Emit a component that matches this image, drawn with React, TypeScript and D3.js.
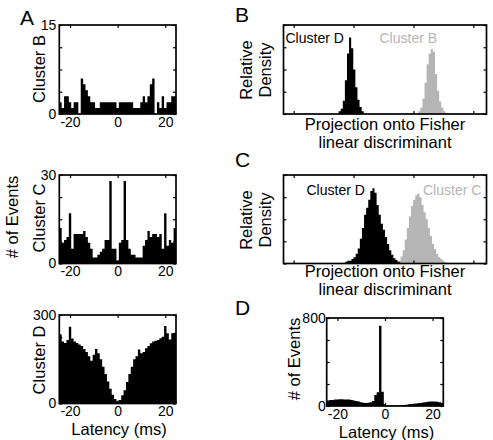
import React, { useEffect, useRef } from "react";
import * as d3 from "d3";

const WIDTH = 493;
const HEIGHT = 440;
const FONT = "'Liberation Sans', Arial, Helvetica, sans-serif";
const GREY = "#b5b5b5";
const TICK = 3;
const TITLE_SIZE = 16.5;

// 1 ms latency bins, centred on integer lags
const lagBins = d3.range(-24, 25);
const latencyTicks = [-20, 0, 20];

// auto-correlograms (events per bin)
const clusterBCounts = [
  2, 1, 3, 3, 2, 1, 2, 2, 0, 6, 5, 4, 3, 2, 2, 1, 1, 2, 2, 2, 2, 2, 2, 2, 1,
  2, 2, 2, 2, 2, 2, 1, 1, 1, 2, 3, 2, 3, 5, 6, 0, 2, 1, 3, 1, 2, 2, 3, 3,
];
const clusterCCounts = [
  12, 7, 8, 9, 17, 5, 10, 10, 10, 10, 11, 9, 7, 5, 2, 2, 3, 4, 5, 8, 8, 28, 5, 5, 1,
  7, 8, 28, 8, 5, 3, 3, 2, 2, 2, 6, 8, 11, 9, 10, 10, 9, 10, 5, 17, 6, 8, 7, 12,
];
const clusterDCounts = [
  235, 210, 205, 215, 260, 220, 210, 205, 200, 195, 185, 175, 160, 145, 165, 185, 170,
  150, 125, 100, 75, 50, 30, 15, 8,
  12, 28, 45, 73, 100, 125, 150, 160, 183, 170, 175, 187, 195, 204, 210, 213, 215,
  221, 226, 263, 238, 217, 238, 240,
];
// cross-correlogram, cluster D vs. cluster C
const crossCounts = [
  50, 55, 55, 58, 60, 62, 62, 60, 60, 58, 55, 50, 45, 40, 35, 30, 28, 30, 35, 45,
  100, 125, 730, 130, 15,
  5, 4, 4, 5, 5, 6, 8, 10, 12, 15, 18, 20, 22, 25, 28, 32, 35, 38, 40, 42, 40, 38, 35, 30,
];

// Fisher projections: relative density per bin
const projBinWidth = 0.035;
const projTicks = [0, 1, 2, 3];
const projDomain: [number, number] = [-0.17, 3.22];
const projB_D_start = 0.75;
const projB_D = [0.03, 0.06, 0.15, 0.38, 0.68, 0.86, 0.74, 0.5, 0.3, 0.16, 0.08, 0.03];
const projB_B_start = 2.08;
const projB_B = [0.03, 0.07, 0.17, 0.35, 0.56, 0.68, 0.73, 0.7, 0.45, 0.26, 0.14, 0.07, 0.03];
const projC_D_start = 0.86;
const projC_D = [
  0.02, 0.03, 0.03, 0.05, 0.07, 0.11, 0.17, 0.28, 0.4, 0.55, 0.63, 0.72, 0.82, 0.85,
  0.8, 0.66, 0.55, 0.45, 0.38, 0.3, 0.22, 0.15, 0.1, 0.06, 0.04, 0.02,
];
const projC_C_start = 1.75;
const projC_C = [
  0.03, 0.08, 0.15, 0.27, 0.4, 0.53, 0.65, 0.72, 0.77, 0.79, 0.75, 0.66, 0.58, 0.5,
  0.4, 0.31, 0.22, 0.16, 0.11, 0.07, 0.05, 0.03, 0.01,
];

type Box = { left: number; right: number; top: number; bottom: number };
type Sel = d3.Selection<SVGSVGElement, unknown, null, undefined>;

function stepArea(
  svg: Sel,
  x: d3.ScaleLinear<number, number>,
  y: d3.ScaleLinear<number, number>,
  start: number,
  width: number,
  values: number[],
  fill: string
) {
  const pts: [number, number][] = values.map((v, i) => [start + i * width, v]);
  pts.push([start + values.length * width, values[values.length - 1]]);
  const area = d3
    .area<[number, number]>()
    .x((d) => x(d[0]))
    .y0(y(0))
    .y1((d) => y(d[1]))
    .curve(d3.curveStepAfter);
  svg.append("path").attr("d", area(pts)).attr("fill", fill);
}

function frame(
  svg: Sel,
  box: Box,
  x: d3.ScaleLinear<number, number>,
  y: d3.ScaleLinear<number, number>,
  xTicks: number[],
  yTicks: number[],
  labelled: boolean,
  yPad = 3
) {
  const yMax = y.domain()[1];
  const noLabel = () => "";
  const g = svg.append("g");
  g.append("g")
    .attr("transform", `translate(0,${box.bottom})`)
    .call(
      d3
        .axisBottom(x)
        .tickValues(xTicks)
        .tickSize(-TICK)
        .tickSizeOuter(0)
        .tickPadding(3)
        .tickFormat(labelled ? (d) => String(d) : noLabel)
    );
  g.append("g")
    .attr("transform", `translate(0,${box.top})`)
    .call(d3.axisTop(x).tickValues(xTicks).tickSize(-TICK).tickSizeOuter(0).tickFormat(noLabel));
  g.append("g")
    .attr("transform", `translate(${box.left},0)`)
    .call(
      d3
        .axisLeft(y)
        .tickValues(yTicks)
        .tickSize(-TICK)
        .tickSizeOuter(0)
        .tickPadding(yPad)
        .tickFormat(labelled ? (d) => (+d === 0 || +d === yMax ? String(d) : "") : noLabel)
    );
  g.append("g")
    .attr("transform", `translate(${box.right},0)`)
    .call(d3.axisRight(y).tickValues(yTicks).tickSize(-TICK).tickSizeOuter(0).tickFormat(noLabel));
  g.selectAll(".domain").remove();
  g.selectAll(".tick line").attr("stroke", "#000").attr("stroke-width", 1.2);
  g.selectAll("text").attr("font-size", 14).attr("font-family", FONT).attr("fill", "#000");
  g.append("rect")
    .attr("x", box.left)
    .attr("y", box.top)
    .attr("width", box.right - box.left)
    .attr("height", box.bottom - box.top)
    .attr("fill", "none")
    .attr("stroke", "#000")
    .attr("stroke-width", 1.7);
}

function latencyPanel(svg: Sel, box: Box, counts: number[], yMax: number, yPad = 3) {
  const x = d3.scaleLinear().domain([-24.5, 24.5]).range([box.left, box.right]);
  const y = d3.scaleLinear().domain([0, yMax]).range([box.bottom, box.top]);
  stepArea(svg, x, y, lagBins[0] - 0.5, 1, counts, "#000");
  frame(svg, box, x, y, latencyTicks, d3.range(0, 5).map((i) => (yMax * i) / 4), true, yPad);
}

function projectionPanel(
  svg: Sel,
  box: Box,
  black: { start: number; values: number[] },
  grey: { start: number; values: number[] }
) {
  const x = d3.scaleLinear().domain(projDomain).range([box.left, box.right]);
  const y = d3.scaleLinear().domain([0, 1]).range([box.bottom, box.top]);
  stepArea(svg, x, y, grey.start, projBinWidth, grey.values, GREY);
  stepArea(svg, x, y, black.start, projBinWidth, black.values, "#000");
  frame(svg, box, x, y, projTicks, [0, 0.25, 0.5, 0.75, 1], false);
}

function label(
  svg: Sel,
  text: string,
  x: number,
  y: number,
  opts: { size?: number; anchor?: string; rotate?: boolean; fill?: string } = {}
) {
  const t = svg
    .append("text")
    .text(text)
    .attr("font-family", FONT)
    .attr("font-size", opts.size ?? TITLE_SIZE)
    .attr("fill", opts.fill ?? "#000")
    .attr("text-anchor", opts.anchor ?? "middle");
  if (opts.rotate) {
    t.attr("transform", `translate(${x},${y}) rotate(-90)`).attr("dy", "0.35em");
  } else {
    t.attr("x", x).attr("y", y);
  }
}

export default function App() {
  const ref = useRef<SVGSVGElement | null>(null);

  useEffect(() => {
    if (!ref.current) return;
    const svg = d3.select(ref.current) as Sel;
    svg.selectAll("*").remove();

    const aLeft = 59.3;
    const aRight = 176;
    latencyPanel(svg, { left: aLeft, right: aRight, top: 25, bottom: 114 }, clusterBCounts, 15);
    latencyPanel(svg, { left: aLeft, right: aRight, top: 175, bottom: 263.5 }, clusterCCounts, 30);
    latencyPanel(svg, { left: aLeft, right: aRight, top: 315, bottom: 403.5 }, clusterDCounts, 300);
    latencyPanel(svg, { left: 326.7, right: 443.3, top: 318, bottom: 406 }, crossCounts, 800, 1);

    projectionPanel(
      svg,
      { left: 283.5, right: 486.5, top: 25, bottom: 114 },
      { start: projB_D_start, values: projB_D },
      { start: projB_B_start, values: projB_B }
    );
    projectionPanel(
      svg,
      { left: 283.5, right: 486.5, top: 175, bottom: 263.5 },
      { start: projC_D_start, values: projC_D },
      { start: projC_C_start, values: projC_C }
    );

    // panel letters
    label(svg, "A", 20, 25, { size: 21, anchor: "start" });
    label(svg, "B", 235, 22, { size: 21, anchor: "start" });
    label(svg, "C", 235, 166.5, { size: 21, anchor: "start" });
    label(svg, "D", 235, 315, { size: 21, anchor: "start" });

    // column A axis titles
    label(svg, "Cluster B", 39.5, 69, { rotate: true });
    label(svg, "Cluster C", 39.5, 218, { rotate: true });
    label(svg, "Cluster D", 39.5, 360, { rotate: true });
    label(svg, "# of Events", 12, 217, { rotate: true });
    label(svg, "Latency (ms)", 119, 435);

    // panel D axis titles
    label(svg, "# of Events", 294, 359, { rotate: true });
    label(svg, "Latency (ms)", 386.5, 437.5);

    // projection panels
    label(svg, "Relative", 246, 70, { rotate: true });
    label(svg, "Density", 265, 70, { rotate: true });
    label(svg, "Projection onto Fisher", 385, 130);
    label(svg, "linear discriminant", 385, 148);
    label(svg, "Cluster D", 285.5, 43, { size: 14, anchor: "start" });
    label(svg, "Cluster B", 379.5, 43, { size: 14, anchor: "start", fill: GREY });

    label(svg, "Relative", 246, 220, { rotate: true });
    label(svg, "Density", 265, 220, { rotate: true });
    label(svg, "Projection onto Fisher", 385, 276.5);
    label(svg, "linear discriminant", 385, 295);
    label(svg, "Cluster D", 306.5, 195, { size: 14, anchor: "start" });
    label(svg, "Cluster C", 423, 195, { size: 14, anchor: "start", fill: GREY });
  }, []);

  return (
    <svg
      ref={ref}
      width={WIDTH}
      height={HEIGHT}
      style={{ position: "absolute", left: 0, top: 0, background: "#fff" }}
    />
  );
}
